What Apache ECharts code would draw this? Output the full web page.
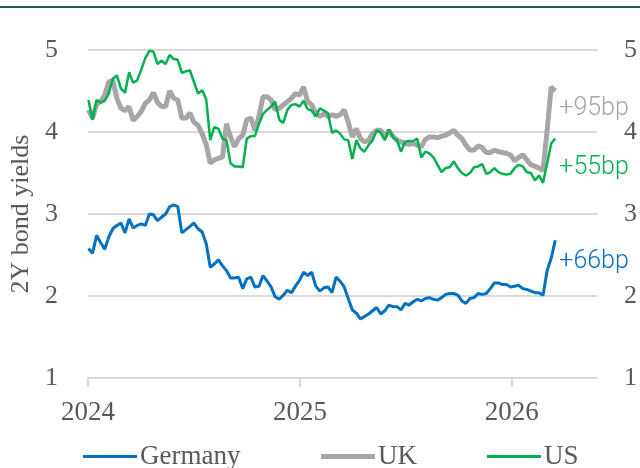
<!DOCTYPE html>
<html>
<head>
<meta charset="utf-8">
<title>2Y bond yields</title>
<script src="https://cdn.jsdelivr.net/npm/echarts@6/dist/echarts.min.js"></script>
<style>
	html, body { margin: 0; padding: 0; background: #fff; }
	#chart { width: 640px; height: 468px; }
</style>
</head>
<body>
<div id="chart"></div>
<script>
// weekly closes, first week of 2024 to mid March 2026
var startDate = "2024-01-02";
var germany = [2.58, 2.52, 2.74, 2.65, 2.57, 2.72, 2.82, 2.86, 2.89, 2.77, 2.94, 2.83, 2.86, 2.88, 2.86, 3.00, 2.99, 2.92, 2.96, 3.00, 3.09, 3.11, 3.09, 2.77, 2.81, 2.85, 2.89, 2.82, 2.78, 2.64,
	2.35, 2.39, 2.44, 2.37, 2.31, 2.22, 2.22, 2.23, 2.09, 2.21, 2.23, 2.11, 2.12, 2.25, 2.18, 2.11, 1.99, 1.96, 2.01, 2.07, 2.04, 2.12, 2.19, 2.29, 2.25, 2.29, 2.12, 2.06, 2.10,
	2.11, 2.04, 2.23, 2.18, 2.11, 1.97, 1.83, 1.79, 1.72, 1.75, 1.78, 1.82, 1.86, 1.78, 1.82, 1.89, 1.87, 1.87, 1.83, 1.91, 1.89, 1.93, 1.96, 1.94, 1.97, 1.98, 1.96, 1.95, 1.98,
	2.02, 2.03, 2.03, 2.01, 1.94, 1.91, 1.97, 1.98, 2.03, 2.02, 2.03, 2.09, 2.16, 2.16, 2.14, 2.14, 2.11, 2.12, 2.13, 2.09, 2.08, 2.06, 2.04, 2.04, 2.01, 2.31, 2.46, 2.68];
var uk = [4.27, 4.17, 4.34, 4.37, 4.45, 4.61, 4.63, 4.41, 4.29, 4.26, 4.31, 4.14, 4.19, 4.25, 4.35, 4.39, 4.48, 4.36, 4.31, 4.31, 4.50, 4.41, 4.39, 4.17, 4.17, 4.23, 4.12, 4.08, 3.98, 3.85,
	3.62, 3.66, 3.68, 3.69, 4.10, 3.94, 3.82, 3.92, 3.96, 4.15, 4.17, 4.02, 4.19, 4.43, 4.43, 4.39, 4.27, 4.29, 4.33, 4.37, 4.41, 4.47, 4.45, 4.55, 4.37, 4.33, 4.23, 4.19, 4.22,
	4.19, 4.21, 4.19, 4.21, 4.27, 4.12, 3.94, 4.04, 3.92, 3.88, 3.90, 3.98, 4.02, 4.02, 3.94, 4.02, 3.95, 3.90, 3.88, 3.86, 3.85, 3.86, 3.84, 3.82, 3.91, 3.94, 3.94, 3.93, 3.95,
	3.96, 3.99, 4.02, 3.96, 3.92, 3.84, 3.78, 3.78, 3.83, 3.81, 3.75, 3.75, 3.78, 3.76, 3.75, 3.74, 3.72, 3.65, 3.69, 3.72, 3.66, 3.60, 3.58, 3.56, 3.53, 4.02, 4.55, 4.50];
var us = [4.39, 4.15, 4.39, 4.36, 4.38, 4.47, 4.65, 4.69, 4.53, 4.48, 4.73, 4.60, 4.63, 4.76, 4.90, 4.99, 4.98, 4.83, 4.87, 4.83, 4.94, 4.89, 4.88, 4.72, 4.74, 4.75, 4.61, 4.47, 4.51, 4.40,
	3.90, 4.06, 4.04, 3.92, 3.90, 3.62, 3.58, 3.58, 3.57, 3.92, 3.95, 3.95, 4.10, 4.22, 4.27, 4.31, 4.37, 4.15, 4.11, 4.27, 4.33, 4.34, 4.31, 4.38, 4.28, 4.26, 4.19, 4.29, 4.26,
	4.23, 3.99, 4.02, 3.98, 3.91, 3.90, 3.67, 3.90, 3.80, 3.76, 3.84, 3.90, 4.02, 3.99, 3.90, 4.03, 3.94, 3.90, 3.76, 3.88, 3.89, 3.89, 3.92, 3.69, 3.76, 3.74, 3.69, 3.60, 3.51,
	3.56, 3.57, 3.64, 3.56, 3.50, 3.47, 3.50, 3.57, 3.58, 3.61, 3.49, 3.51, 3.56, 3.51, 3.49, 3.48, 3.49, 3.56, 3.60, 3.58, 3.51, 3.50, 3.41, 3.47, 3.38, 3.62, 3.86, 3.92];
var seriesNames = ["Germany", "UK", "US"];
var changeLabels = ["+66bp", "+95bp", "+55bp"];
var yTicks = [1, 2, 3, 4, 5];

window.onload = function() {
	var byId = function(id) {
		return document.getElementById(id);
	};
	var dayMs = 24 * 3600 * 1000;
	var t0 = new Date(startDate + "T00:00:00Z").getTime();
	function pairs(vals) {		// values against weekly dates
		var out = [];
		for (var i = 0; i < vals.length; i++) {
			out.push([t0 + i * 7 * dayMs, vals[i]]);
		}
		return out;
	}
	var serif = "Liberation Serif";
	var grey = "#595959";
	var colors = ["#0070C0", "#A6A6A6", "#00B050"];
	var widths = [3, 5, 2.5];
	var offsets = [[4, 22], [4, 18], [4, 29]];
	var allData = [germany, uk, us];
	var legendLeft = [83, 321, 487];		// one legend per series, as in the original layout
	var legendH = [3, 5, 3];

	var series = [];
	var legends = [];
	for (var i = 0; i < 3; i++) {
		series.push({
			name: seriesNames[i],
			type: "line",
			data: pairs(allData[i]),
			showSymbol: false,
			symbol: "none",
			z: i == 1 ? 2 : 3,
			lineStyle: { color: colors[i], width: widths[i] },
			itemStyle: { color: colors[i] },
			endLabel: {
				show: true,
				formatter: changeLabels[i],
				color: colors[i],
				fontFamily: "Roboto",
				fontWeight: 300,
				fontSize: 25,
				distance: 0,
				offset: offsets[i]
			}
		});
		legends.push({
			left: legendLeft[i],
			bottom: -2,
			padding: 0,
			icon: "rect",
			itemWidth: 54,
			itemHeight: legendH[i],
			selectedMode: false,
			textStyle: { color: grey, fontFamily: serif, fontSize: 27, padding: [0, 0, 0, -2] },
			data: [seriesNames[i]]
		});
	}

	var yAxisBase = function(pos) {
		return {
			type: "value",
			position: pos,
			min: yTicks[0],
			max: yTicks[yTicks.length - 1],
			interval: 1,
			axisLine: { show: false },
			axisTick: { show: false },
			axisLabel: { color: grey, fontFamily: serif, fontSize: 26, margin: pos == "left" ? 30 : 27 },
			splitLine: { show: pos == "left", lineStyle: { color: "#D9D9D9", width: 2 } }
		};
	};
	var leftAxis = yAxisBase("left");
	leftAxis.name = "2Y bond yields";
	leftAxis.nameLocation = "middle";
	leftAxis.nameGap = 52;
	leftAxis.nameTextStyle = { color: grey, fontFamily: serif, fontSize: 26 };

	var option = {
		animation: false,
		backgroundColor: "#fff",
		color: colors,
		graphic: [{
			type: "rect",
			left: 0, top: 6,
			shape: { width: 640, height: 2 },
			style: { fill: "#1E5B5A" }
		}],
		grid: { left: 85, right: 43, top: 50, bottom: 90 },
		legend: legends,
		xAxis: {
			type: "time",
			min: new Date("2024-01-01T00:00:00Z").getTime(),
			max: new Date("2026-05-28T00:00:00Z").getTime(),
			minInterval: 365 * dayMs,
			maxInterval: 366 * dayMs,
			axisLine: { show: true, lineStyle: { color: "#D9D9D9", width: 2 } },
			axisTick: { show: true, length: 9, lineStyle: { color: "#D9D9D9", width: 2 } },
			axisLabel: {
				color: grey, fontFamily: serif, fontSize: 27, margin: 21,
				showMinLabel: true, showMaxLabel: false,
				formatter: "{yyyy}"
			},
			splitLine: { show: false }
		},
		yAxis: [leftAxis, yAxisBase("right")],
		series: series
	};
	var chart = echarts.init(byId("chart"), null, { renderer: "canvas" });
	chart.setOption(option);
};
</script>
</body>
</html>
